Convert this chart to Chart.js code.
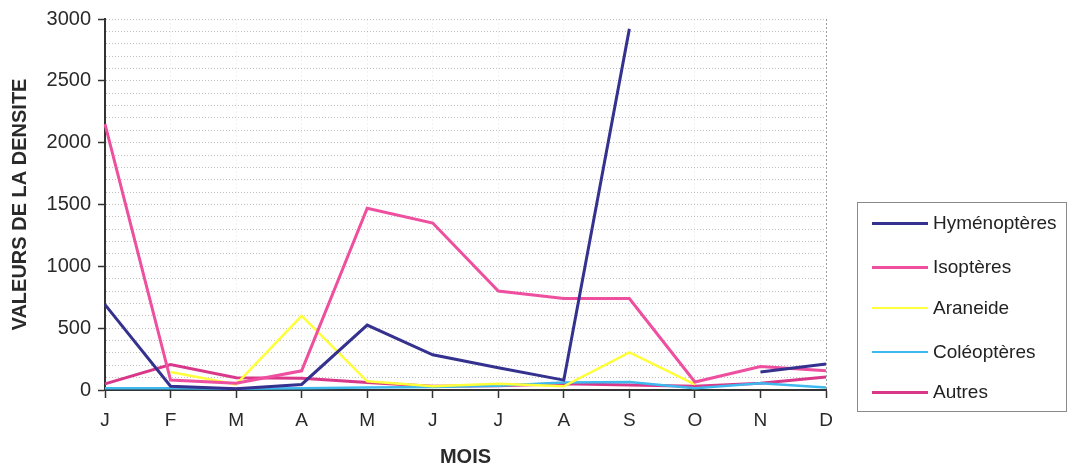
<!DOCTYPE html>
<html>
<head>
<meta charset="utf-8">
<script src="https://cdn.jsdelivr.net/npm/chart.js@4/dist/chart.umd.min.js"></script>
<style>
  html, body { margin: 0; padding: 0; background: #fff; }
  #wrap { position: relative; width: 1073px; height: 467px; }
  canvas { position: absolute; left: 0; top: 0; }
  #legend { position: absolute; left: 857px; top: 202px; width: 210px; height: 210px;
            border: 1px solid #8a8a8a; box-sizing: border-box; font-family: "Liberation Sans", Arial, sans-serif; }
  .row { position: absolute; left: 14px; height: 24px; display: flex; align-items: center; }
  .sw { width: 56px; height: 3px; margin-right: 5px; }
  .lbl { font-size: 19px; color: #222; }
</style>
</head>
<body>
<div id="wrap">
  <canvas id="c" width="1073" height="467"></canvas>
  <div id="legend"></div>
</div>
<script>
const months = ['J','F','M','A','M','J','J','A','S','O','N','D'];
const seriesNames = ['Hyménoptères','Isoptères','Araneide','Coléoptères','Autres'];
const hymenopteres = [690, 30, 10, 45, 525, 285, 180, 80, 2920, null, 145, 210];
const isopteres    = [2150, 80, 55, 155, 1470, 1350, 800, 740, 740, 65, 190, 155];
const araneide     = [null, 145, 45, 600, 70, 30, 50, 30, 305, 45, null, null];
const coleopteres  = [15, 15, 10, 15, 20, 25, 35, 60, 65, 15, 55, 20];
const autres       = [50, 205, 100, 95, 60, 30, 35, 50, 40, 30, 55, 105];
const yTickLabels  = [0, 500, 1000, 1500, 2000, 2500, 3000];

const colors = ['#35318f', '#ee4f9e', '#ffff3a', '#3fb8ee', '#d9388a'];
const widths = [3, 3, 2.5, 2.5, 3];
const values = [hymenopteres, isopteres, araneide, coleopteres, autres];

const datasets = seriesNames.map((n, i) => ({
  label: n, data: values[i], borderColor: colors[i], backgroundColor: colors[i],
  borderWidth: widths[i], pointRadius: 0, tension: 0, spanGaps: false, fill: false
}));

const FONT = "'Liberation Sans', Arial, sans-serif";

new Chart(document.getElementById('c'), {
  type: 'line',
  data: { labels: months, datasets },
  options: {
    responsive: false, animation: false,
    layout: { padding: { top: 19, right: 247, left: 0, bottom: 0 } },
    plugins: { legend: { display: false }, tooltip: { enabled: false } },
    scales: {
      x: {
        offset: false,
        grid: {
          color: (ctx) => ctx.index === 11 ? '#9a9a9a' : 'rgba(180,180,180,0.18)',
          lineWidth: 1, tickLength: 8, tickColor: '#333', tickWidth: 1.5, drawTicks: true
        },
        border: { display: true, color: '#333', width: 2, dash: [2, 2] },
        ticks: { color: '#2a2a2a', font: { family: FONT, size: 19 }, padding: 11, maxRotation: 0, autoSkip: false },
        title: { display: true, text: 'MOIS', color: '#2a2a2a', font: { family: FONT, size: 20, weight: 'bold', lineHeight: 1 }, padding: { top: 0, bottom: 0 } },
        afterFit: (s) => { s.height = 77; }
      },
      y: {
        min: 0, max: 3000,
        grid: {
          color: () => 'rgba(140,140,140,0.55)',
          lineWidth: 1, tickLength: 7, drawTicks: true,
          tickColor: (ctx) => (ctx.tick && yTickLabels.includes(ctx.tick.value)) ? '#333' : 'rgba(0,0,0,0)',
          tickWidth: 1.5
        },
        border: { display: true, color: '#333', width: 2, dash: [1, 2] },
        ticks: {
          stepSize: 100, autoSkip: false, color: '#2a2a2a', padding: 7,
          font: { family: FONT, size: 20 },
          callback: (v) => yTickLabels.includes(v) ? String(v) : ''
        },
        title: { display: true, text: 'VALEURS DE LA DENSITE', color: '#2a2a2a', font: { family: FONT, size: 20, weight: 'bold', lineHeight: 1 }, padding: { top: 10, bottom: 0 } },
        afterFit: (s) => { s.width = 105; }
      }
    }
  }
});

const legend = document.getElementById('legend');
const rowTops = [223, 267, 308, 352, 392];
seriesNames.forEach((n, i) => {
  const r = document.createElement('div');
  r.className = 'row';
  r.style.top = (rowTops[i] - 202 - 13) + 'px';
  const sw = document.createElement('div');
  sw.className = 'sw'; sw.style.background = colors[i];
  sw.style.height = (i === 2 || i === 3) ? '2px' : '3px';
  const t = document.createElement('span');
  t.className = 'lbl'; t.textContent = n;
  r.appendChild(sw); r.appendChild(t);
  legend.appendChild(r);
});
</script>
</body>
</html>
